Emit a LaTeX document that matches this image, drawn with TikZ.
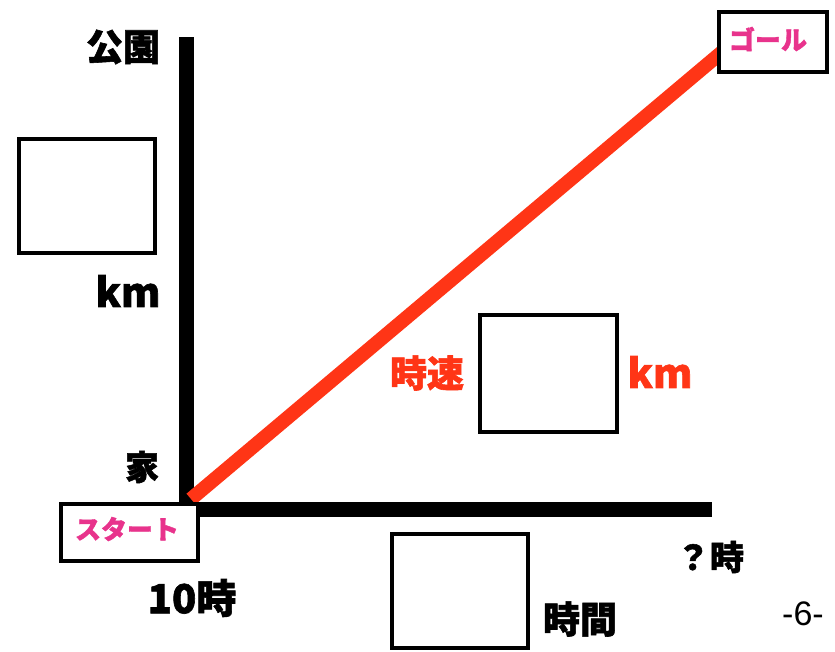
\documentclass[tikz,border=0pt]{standalone}
\usepackage{fontspec}
\setmainfont{Noto Sans CJK JP}[BoldFeatures={FakeBold=1.5}]
\newfontfamily\thinfont{Liberation Sans}
\definecolor{pinktxt}{HTML}{E8338C}
\definecolor{redline}{HTML}{FF3516}
\newcommand{\fs}[1]{\bfseries\fontsize{#1}{#1}\selectfont}
\tikzset{
  ansbox/.style={draw=black, line width=4pt, fill=white, inner sep=0pt},
  lab/.style={font=\fs{37}, inner sep=0pt},
  pinklab/.style={font=\fs{26}, text=pinktxt, inner sep=0pt},
  axis/.style={line width=15pt, line cap=butt}
}
\begin{document}
\begin{tikzpicture}[x=1pt,y=-1pt]
\useasboundingbox (0,0) rectangle (835,651);
% axes
\coordinate (ytop) at (186,37);
\coordinate (ybot) at (186,502);
\coordinate (xl) at (186,509);
\coordinate (xr) at (712,509);
\draw[axis] (ytop) -- (ybot);
\draw[axis] (xl) -- (xr);
% red line
\coordinate (rs) at (191,499);
\coordinate (re) at (722,52);
\draw[redline, line width=14pt] (rs) -- (re);
% boxes
\node[ansbox, minimum width=137pt, minimum height=57pt, anchor=north west] (start) at (59,502) {};
\node[pinklab] (starttxt) at (127,529) {スタート};
\node[ansbox, minimum width=108pt, minimum height=60pt, anchor=north west] (goal) at (717,10) {};
\node[pinklab] (goaltxt) at (768,39) {ゴール};
\node[ansbox, minimum width=136pt, minimum height=114pt, anchor=north west] (boxL) at (17,137) {};
\node[ansbox, minimum width=137pt, minimum height=117pt, anchor=north west] (boxM) at (478,313) {};
\node[ansbox, minimum width=136pt, minimum height=114pt, anchor=north west] (boxB) at (390,532) {};
% labels
\node[lab] (park) at (123,47) {公園};
\node[lab, font=\fs{34}] (home) at (142,467) {家};
\node[lab, font=\fs{40}] (km1) at (128,291) {km};
\node[lab, text=redline] (speed) at (427,373) {時速};
\node[lab, font=\fs{40}, text=redline] (km2) at (660,372) {km};
\node[lab, font=\fs{40}] (ten) at (192,598) {10時};
\node[lab, font=\fs{34}] (qh) at (710,557) {？時};
\node[lab] (hours) at (580,619) {時間};
\node[font=\thinfont\fontsize{34}{34}\selectfont, inner sep=0pt] (page) at (803,614) {-6-};
\end{tikzpicture}
\end{document}
